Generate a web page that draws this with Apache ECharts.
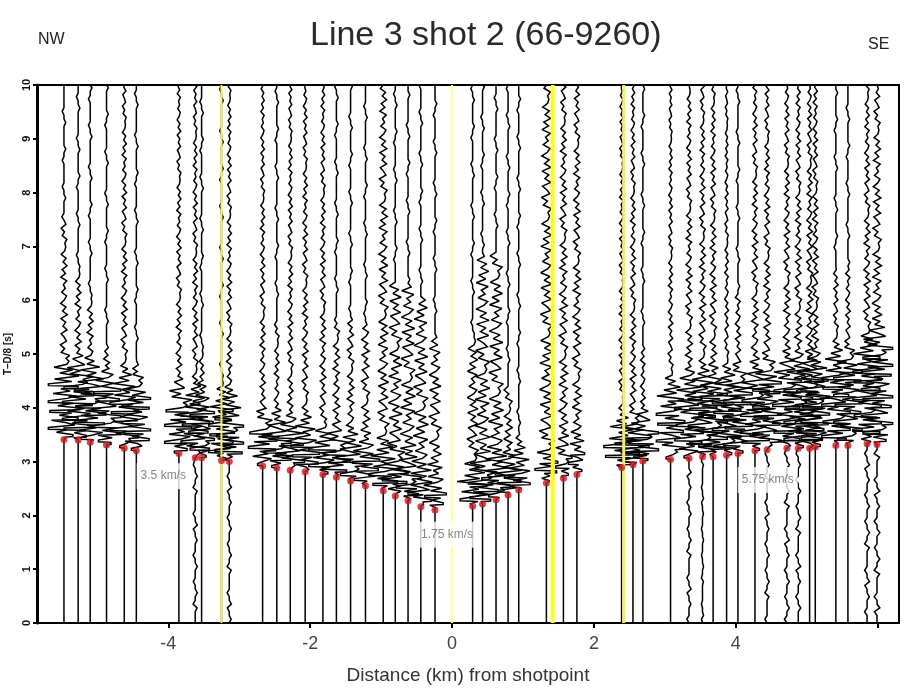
<!DOCTYPE html>
<html><head><meta charset="utf-8">
<script src="https://cdn.jsdelivr.net/npm/echarts@6/dist/echarts.min.js"></script>
<style>html,body{margin:0;padding:0;background:#fff}#c{width:904px;height:696px}</style>
</head><body><div id="c"></div>
<script>
// ---- data ----
const traceDist = [-5.47,-5.27,-5.10,-4.87,-4.62,-4.45,-3.85,-3.62,-3.53,-3.25,-3.14,
  -2.67,-2.47,-2.28,-2.07,-1.82,-1.63,-1.43,-1.22,-0.97,-0.80,-0.62,-0.44,-0.24,
  0.29,0.43,0.62,0.79,0.94,1.33,1.57,1.76,2.39,2.55,2.69,
  3.08,3.34,3.53,3.68,3.87,4.03,4.27,4.44,4.72,4.88,5.04,5.12,5.41,5.58,5.85,5.99];
const pickTime = [3.41,3.40,3.36,3.31,3.25,3.20,3.15,3.07,3.07,3.02,3.00,
  2.92,2.88,2.84,2.81,2.76,2.71,2.64,2.55,2.46,2.36,2.27,2.16,2.10,
  2.17,2.21,2.29,2.38,2.47,2.60,2.69,2.76,2.89,2.94,3.01,
  3.04,3.06,3.09,3.09,3.12,3.15,3.20,3.22,3.25,3.25,3.25,3.27,3.30,3.30,3.33,3.32];
// wiggle envelope (km of deflection / seconds) per trace
const strongAmp = [0.22,0.22,0.22,0.2,0.2,0.2,0.2,0.2,0.18,0.18,0.2,
  0.2,0.2,0.2,0.2,0.2,0.2,0.2,0.2,0.2,0.18,0.18,0.18,0.16,
  0.22,0.22,0.2,0.2,0.2,0.16,0.12,0.12,0.25,0.25,0.22,
  0.2,0.2,0.2,0.2,0.2,0.2,0.2,0.2,0.2,0.2,0.2,0.2,0.2,0.2,0.2,0.22];
const strongDur = [1.1,1.1,1.1,1.0,1.0,1.0,0.9,0.9,0.9,0.9,0.9,
  0.6,0.6,0.6,0.6,0.5,0.5,0.5,0.5,0.5,0.5,0.5,0.4,0.4,
  0.4,0.5,0.5,0.4,0.4,0.4,0.4,0.4,0.5,0.5,0.5,
  1.1,1.2,1.2,1.2,1.2,1.2,1.2,1.3,1.3,1.3,1.3,1.3,1.4,1.4,1.6,1.8];
const codaAmp = [0.05,0.045,0.045,0.04,0.045,0.04,0.04,0.04,0.035,0.035,0.04,
  0.04,0.035,0.04,0.045,0.045,0.05,0.05,0.06,0.08,0.1,0.11,0.11,0.09,
  0.08,0.11,0.11,0.06,0.04,0.1,0.065,0.065,0.04,0.045,0.035,
  0.035,0.05,0.05,0.05,0.03,0.04,0.05,0.05,0.05,0.05,0.05,0.05,0.035,0.035,0.05,0.07];
const codaTop = [7.5,6.5,6.0,5.0,10,4.8,10,10,5.0,4.5,10,
  10,5.5,10,10,10,5.5,5.5,5.5,10,6.2,6.2,6.0,5.2,
  5.3,6.8,6.8,4.3,3.5,10,10,10,10,10,5.0,
  10,10,10,10,10,6.0,10,10,10,10,10,10,6.5,6.5,10,10];
const noiseAmp = [0,0,0,0,0,0,0,0.03,0,0,0.03,
  0,0,0,0,0,0,0,0,0,0,0,0,0,
  0,0,0,0,0,0,0,0,0,0,0,
  0,0.03,0.015,0,0,0,0,0.03,0.035,0.035,0,0,0,0,0.035,0.04];
const highlightDist = [-3.25, 0, 1.42, 2.42];
const velLabels = ['3.5 km/s', '1.75 km/s', '5.75 km/s'];
const velLabelDist = [-4.07, -0.07, 4.45];
const velLabelTime = [2.73, 1.64, 2.66];
const xTickValues = [-4, -2, 0, 2, 4, 6];
const xLabelValues = [-4, -2, 0, 2, 4];

// ---- drawing style (wiggle shape, not data) ----
const SHAPE = [0.3,1,-0.6,0.2,-1,0.7,0.1,-0.8,0.9,-0.3,0.5,-0.9,1,-0.4,0.6,-1,0.2,0.8,-0.7,0.4,-0.2,0.9,-1,0.5,-0.6,1,-0.3,0.7,-0.9,0.3,0.6];
const TAIL = 0.025;
const FONT = '"Liberation Sans", Arial, sans-serif';

const traceData = traceDist.map((d, i) => [d, pickTime[i], strongAmp[i], strongDur[i], codaAmp[i], codaTop[i], noiseAmp[i], i]);

function renderTrace(params, api) {
  const d = api.value(0), p = api.value(1), sA = api.value(2), sD = api.value(3),
        cA = api.value(4), cT = api.value(5), nA = api.value(6), idx = api.value(7);
  const n = SHAPE.length;
  let k = idx * 7;
  const pts = [api.coord([d, 0])];
  if (nA > 0) {
    for (let t = 0.07; t < p - 0.07; t += 0.07) {
      const s = SHAPE[(k++) % n];
      pts.push(api.coord([d + (Math.abs(s) >= 0.9 ? nA * s : 0), t]));
    }
  }
  pts.push(api.coord([d, p]));
  const codaStart = p + sD + 0.5;
  let t = p;
  while (t < 10) {
    const rel = t - p;
    let dt = 0.07;
    let off;
    const s = SHAPE[(k++) % n];
    if (rel < sD) {
      dt = 0.045; off = sA * Math.min(1, 0.35 + rel / 0.2) * s;
      // flat tip on big swings -> horizontal streaks
      if (Math.abs(s) >= 0.9) pts.push(api.coord([d + off, t + 0.012]));
    }
    else if (rel < sD + 0.5 && t < cT) { dt = 0.055; off = (sA + (cA - sA) * (rel - sD) / 0.5) * s; }
    else if (t < cT) off = cA * (1 - 0.45 * Math.max(0, t - codaStart) / Math.max(0.5, 10 - codaStart)) * s;
    else off = Math.abs(s) >= 1 ? TAIL * s : 0;
    t += dt;
    if (t >= 10) break;
    pts.push(api.coord([d + off, t]));
  }
  pts.push(api.coord([d, 10]));
  return { type: 'polyline', shape: { points: pts }, style: { stroke: '#000', lineWidth: 1.5, fill: null, lineJoin: 'miter', miterLimit: 2 } };
}

const chart = echarts.init(document.getElementById('c'), null, { renderer: 'canvas' });
const series = [
  { type: 'custom', coordinateSystem: 'cartesian2d', renderItem: renderTrace, data: traceData, clip: true, z: 2, silent: true, animation: false }
];
highlightDist.forEach((d, i) => {
  series.push({ type: 'line', data: [[d, 0], [d, 10]], symbol: 'none', z: 4, silent: true, animation: false,
    lineStyle: { color: i === 2 ? '#ffff10' : (i === 1 ? '#ffff80' : '#f2f250'), width: i === 2 ? 4 : (i === 3 ? 3 : 2) } });
});
series.push({ type: 'scatter', data: traceDist.map((d, i) => [d, pickTime[i]]), symbol: 'circle', symbolSize: 7,
  itemStyle: { color: '#d5121c' }, z: 6, silent: true, animation: false });
series.push({ type: 'scatter', z: 8, silent: true, animation: false, symbolSize: 1, itemStyle: { color: 'rgba(0,0,0,0)' },
  data: velLabels.map((s, i) => ({ name: s, value: [velLabelDist[i], velLabelTime[i]] })),
  label: { show: true, position: 'inside', formatter: '{b}', color: '#666', fontSize: 12, fontFamily: FONT,
    backgroundColor: '#fff', padding: [7, 4] } });

chart.setOption({
  animation: false,
  backgroundColor: '#fff',
  grid: { left: 37, right: 5, top: 85, bottom: 73, outerBoundsMode: 'none', containLabel: false,
    show: true, borderColor: '#000', borderWidth: 2, backgroundColor: 'transparent' },
  xAxis: {
    type: 'value', min: -5.85, max: 6.3, position: 'bottom',
    axisLine: { show: true, onZero: false, lineStyle: { color: '#000', width: 2 } },
    axisTick: { show: true, customValues: xTickValues, length: 5, lineStyle: { color: '#000', width: 2 } },
    axisLabel: { customValues: xLabelValues, fontSize: 18, color: '#444', margin: 12, fontFamily: FONT },
    splitLine: { show: false },
    name: 'Distance (km) from shotpoint', nameLocation: 'middle', nameGap: 43,
    nameTextStyle: { fontSize: 19, color: '#333', fontFamily: FONT }
  },
  yAxis: {
    type: 'value', min: 0, max: 10, interval: 1, position: 'left',
    axisLine: { show: true, onZero: false, lineStyle: { color: '#000', width: 3 } },
    axisTick: { show: true, length: 4, lineStyle: { color: '#000', width: 2 } },
    axisLabel: { rotate: 90, fontSize: 11, fontWeight: 'bold', color: '#111', margin: 5, fontFamily: FONT },
    splitLine: { show: false },
    name: 'T–D/8 [s]', nameLocation: 'middle', nameGap: 17, nameRotate: 90,
    nameTextStyle: { fontSize: 10, fontWeight: 'bold', color: '#111', fontFamily: FONT }
  },
  graphic: [
    { type: 'text', left: 310, top: 19, style: { text: 'Line 3 shot 2 (66-9260)', font: '34px ' + FONT, fill: '#2a2a2a' } },
    { type: 'text', left: 38, top: 32, style: { text: 'NW', font: '16px ' + FONT, fill: '#222' } },
    { type: 'text', left: 868, top: 37, style: { text: 'SE', font: '16px ' + FONT, fill: '#222' } }
  ],
  series: series
});
</script></body></html>
